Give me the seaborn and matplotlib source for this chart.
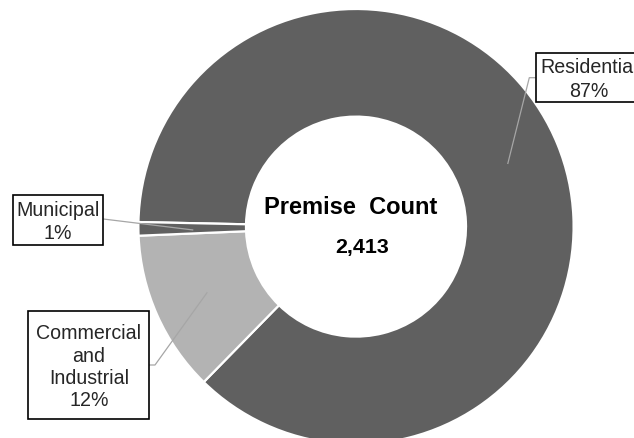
import matplotlib
matplotlib.use("Agg")
import matplotlib.pyplot as plt
from matplotlib.patches import Rectangle
import seaborn as sns

# ---- data ----
categories = ["Residential", "Commercial and Industrial", "Municipal"]
shares = [87, 12, 1]
pct_labels = ["87%", "12%", "1%"]
center_title = "Premise  Count"
center_value = "2,413"

sns.set_theme(style="white")
plt.rcParams["font.family"] = ["Liberation Sans", "DejaVu Sans"]

W, H = 634, 438
fig = plt.figure(figsize=(W / 100, H / 100), dpi=100)
ax = fig.add_axes([0, 0, 1, 1])

def Y(y):
    return H - y

colors = sns.color_palette(["#606060", "#b3b3b3", "#606060"])

cx, cy, R, r_in = 356, 226.6, 217.6, 110
ax.pie(shares, colors=colors, startangle=178.8, counterclock=False,
       center=(cx, Y(cy)), radius=R,
       wedgeprops=dict(width=R - r_in, edgecolor="white", linewidth=1.6))
ax.set_xlim(0, W)
ax.set_ylim(0, H)
ax.set_aspect("auto")
ax.axis("off")

# centre text
ax.text(351, Y(214), center_title, ha="center", va="baseline",
        fontsize=17, fontweight="bold", color="black")
ax.text(362.5, Y(253), center_value, ha="center", va="baseline",
        fontsize=15.4, fontweight="bold", color="black")

lead = dict(color="#a6a6a6", lw=0.9, zorder=3, solid_capstyle="butt")
fs = 14.1

# Residential label
ax.plot([535.7, 529.3, 507.7], [Y(77.7), Y(77.7), Y(164)], **lead)
ax.add_patch(Rectangle((535.7, Y(102.3)), 108, 49, facecolor="white",
                       edgecolor="black", lw=1.2, zorder=4))
for txt, yb in zip([categories[0], pct_labels[0]], [73.3, 96.7]):
    ax.text(589, Y(yb), txt, ha="center", va="baseline", fontsize=fs, zorder=5)

# Municipal label
ax.plot([103.3, 193.3], [Y(219), Y(230)], **lead)
ax.add_patch(Rectangle((12.7, Y(245)), 90.6, 50, facecolor="white",
                       edgecolor="black", lw=1.2, zorder=4))
for txt, yb in zip([categories[2], pct_labels[2]], [216, 239.3]):
    ax.text(58, Y(yb), txt, ha="center", va="baseline", fontsize=fs, zorder=5)

# Commercial and Industrial label
ax.plot([149, 155, 207.3], [Y(365), Y(365), Y(292.3)], **lead)
ax.add_patch(Rectangle((28.3, Y(419.3)), 120.7, 108.6, facecolor="white",
                       edgecolor="black", lw=1.2, zorder=4))
ci_lines = ["Commercial", "and", "Industrial", pct_labels[1]]
for txt, yb in zip(ci_lines, [339.3, 361.7, 384, 406]):
    ax.text(88.9, Y(yb), txt, ha="center", va="baseline", fontsize=fs, zorder=5)

fig.savefig("out.png", dpi=100)
